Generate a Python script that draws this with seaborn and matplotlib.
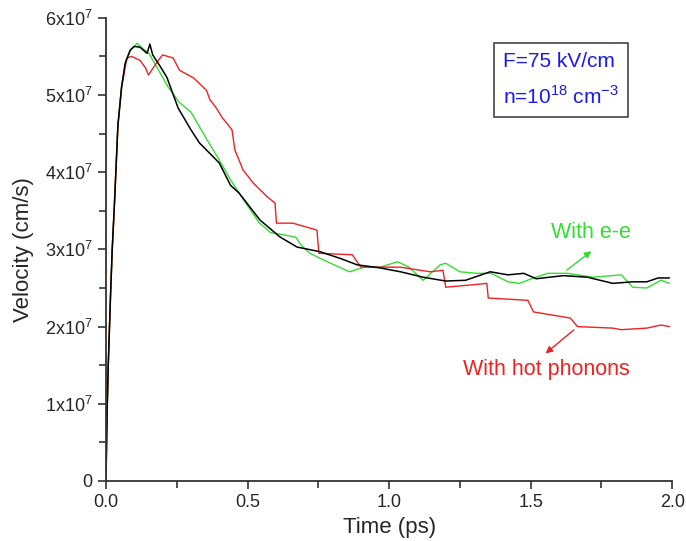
import numpy as np
import seaborn as sns
import matplotlib
matplotlib.use("Agg")
import matplotlib.pyplot as plt
from matplotlib.ticker import MultipleLocator, FuncFormatter

# velocity in units of 1e7 cm/s, time in ps
t_black = [0, 0.004, 0.008, 0.016, 0.022, 0.03, 0.042, 0.055, 0.067, 0.085, 0.10, 0.12,
           0.145, 0.155, 0.165, 0.19, 0.215, 0.255, 0.30, 0.33, 0.40, 0.44, 0.47, 0.544,
           0.615, 0.675, 0.756, 0.83, 0.887, 0.968, 1.04, 1.12, 1.20, 1.27, 1.357,
           1.42, 1.475, 1.52, 1.615, 1.70, 1.79, 1.86, 1.91, 1.95, 1.99]
v_black = [0, 0.9, 1.5, 2.4, 3.0, 3.6, 4.6, 5.1, 5.4, 5.58, 5.63, 5.62,
           5.54, 5.66, 5.52, 5.38, 5.23, 4.83, 4.55, 4.38, 4.12, 3.83, 3.73, 3.38,
           3.16, 3.03, 2.97, 2.88, 2.80, 2.76, 2.71, 2.64, 2.59, 2.60, 2.71,
           2.67, 2.69, 2.62, 2.66, 2.64, 2.56, 2.58, 2.58, 2.63, 2.63]

t_green = [0, 0.004, 0.008, 0.016, 0.022, 0.03, 0.042, 0.055, 0.07, 0.09, 0.11, 0.13,
           0.15, 0.18, 0.22, 0.26, 0.30, 0.33, 0.357, 0.40, 0.44, 0.47, 0.54, 0.58,
           0.67, 0.69, 0.72, 0.77, 0.86, 0.92, 0.968, 1.03, 1.07, 1.12, 1.18, 1.20,
           1.25, 1.31, 1.36, 1.42, 1.46, 1.51, 1.56, 1.63, 1.72, 1.82, 1.86, 1.91,
           1.96, 1.99]
v_green = [0, 0.9, 1.5, 2.4, 3.0, 3.6, 4.6, 5.1, 5.45, 5.6, 5.67, 5.6,
           5.55, 5.36, 5.1, 4.9, 4.78, 4.59, 4.42, 4.16, 3.9, 3.73, 3.35, 3.22,
           3.16, 3.05, 2.95, 2.86, 2.71, 2.78, 2.77, 2.84, 2.77, 2.60, 2.80, 2.82,
           2.71, 2.69, 2.69, 2.58, 2.56, 2.63, 2.69, 2.69, 2.64, 2.67, 2.51, 2.50,
           2.60, 2.56]

t_red = [0, 0.004, 0.008, 0.016, 0.022, 0.03, 0.042, 0.055, 0.074, 0.09, 0.12, 0.14,
         0.15, 0.185, 0.2, 0.237, 0.26, 0.31, 0.355, 0.367, 0.39, 0.41, 0.445, 0.455,
         0.484, 0.52, 0.57, 0.597, 0.602, 0.66, 0.745, 0.752, 0.87, 0.90, 0.968, 1.04,
         1.145, 1.19, 1.20, 1.29, 1.345, 1.35, 1.49, 1.51, 1.64, 1.665, 1.79, 1.82,
         1.91, 1.96, 1.99]
v_red = [0, 0.9, 1.5, 2.4, 3.0, 3.6, 4.6, 5.1, 5.48, 5.5, 5.45, 5.35,
         5.26, 5.45, 5.52, 5.48, 5.32, 5.22, 5.06, 4.94, 4.83, 4.71, 4.55, 4.29,
         4.03, 3.86, 3.68, 3.60, 3.34, 3.34, 3.25, 2.95, 2.93, 2.77, 2.77, 2.77,
         2.71, 2.73, 2.51, 2.54, 2.56, 2.37, 2.34, 2.19, 2.11, 2.0, 1.98, 1.96,
         1.98, 2.02, 2.0]

y_ticks = [0, 1, 2, 3, 4, 5, 6]

sns.set_style("ticks")
plt.rcParams['font.family'] = ['Liberation Sans', 'DejaVu Sans']

fig = plt.figure(figsize=(6.86, 5.41), dpi=100)
ax = fig.add_axes([0.1545, 0.111, 0.8255, 0.856])

sns.lineplot(x=t_green, y=v_green, color='#33dd33', linewidth=1.0, sort=False, ax=ax)
sns.lineplot(x=t_red, y=v_red, color='#ee2222', linewidth=1.0, sort=False, ax=ax)
sns.lineplot(x=t_black, y=v_black, color='black', linewidth=1.1, sort=False, ax=ax)

ax.set_xlim(0, 2.0)
ax.set_ylim(0, 6)
ax.set_xticks([0, 0.5, 1.0, 1.5, 2.0])
ax.xaxis.set_minor_locator(MultipleLocator(0.25))
ax.set_yticks(y_ticks)
ax.yaxis.set_minor_locator(MultipleLocator(0.5))
ax.yaxis.set_major_formatter(FuncFormatter(
    lambda v, p: '0' if v == 0 else r'$\mathregular{%dx10^{7}}$' % v))
ax.xaxis.set_major_formatter(FuncFormatter(lambda v, p: '%.1f' % v))
ax.tick_params(which='both', direction='out', width=1.2, labelsize=13, color='#333333')
ax.tick_params(which='major', length=6)
ax.tick_params(which='minor', length=5)
sns.despine(ax=ax)
for s in ['left', 'bottom']:
    ax.spines[s].set_linewidth(1.3)
    ax.spines[s].set_color('#333333')

ax.set_xlabel('Time (ps)', fontsize=16)
ax.set_ylabel('Velocity (cm/s)', fontsize=16, labelpad=8)

ax.text(0.701, 0.866, 'F=75 kV/cm\n' + r'n=10$^{\mathregular{18}}$ cm$^{\mathregular{-3}}$',
        transform=ax.transAxes, ha='left', va='center', color='#1a1aee', fontsize=15,
        linespacing=1.75,
        bbox=dict(boxstyle='square,pad=0.45', facecolor='white', edgecolor='#444444', linewidth=1.2))

ax.annotate('', xy=(1.722, 3.0), xytext=(1.62, 2.71),
            arrowprops=dict(arrowstyle='-|>', color='#33dd33', lw=1.0, mutation_scale=10))
ax.text(1.714, 3.22, 'With e-e', color='#33dd33', fontsize=15.5, ha='center', va='center')
ax.annotate('', xy=(1.545, 1.63), xytext=(1.66, 1.98),
            arrowprops=dict(arrowstyle='-|>', color='#ee2222', lw=1.0, mutation_scale=10))
ax.text(1.555, 1.44, 'With hot phonons', color='#ee2222', fontsize=15.5, ha='center', va='center')

fig.savefig('out.png', dpi=100)
